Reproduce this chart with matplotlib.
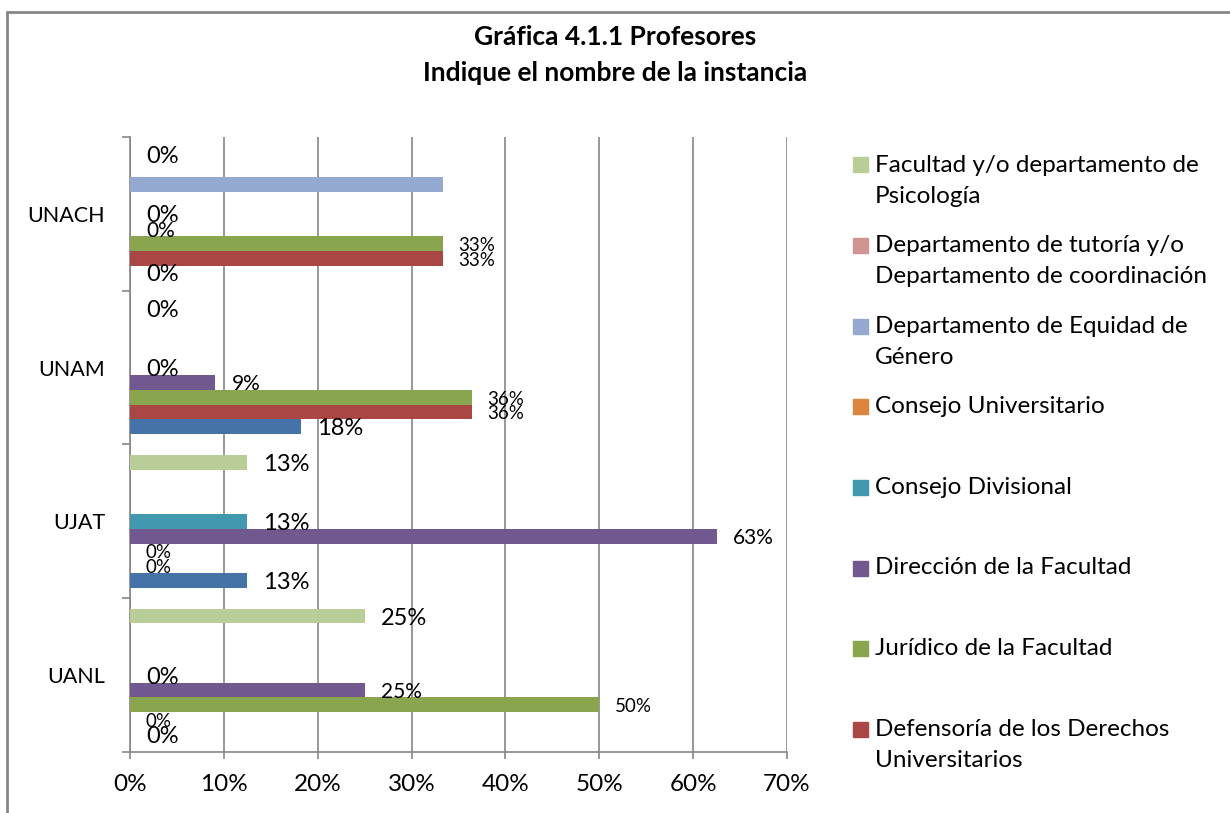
import numpy as np
import matplotlib
matplotlib.use('Agg')
import matplotlib.pyplot as plt
from matplotlib.patches import Rectangle

plt.rcParams['font.family'] = ['Lato', 'DejaVu Sans']

# Datos (porcentaje de profesores)
universidades = ['UANL', 'UJAT', 'UNAM', 'UNACH']
instancias = [
    'Otra instancia',
    'Defensoría de los Derechos\nUniversitarios',
    'Jurídico de la Facultad',
    'Dirección de la Facultad',
    'Consejo Divisional',
    'Consejo Universitario',
    'Departamento de Equidad de\nGénero',
    'Departamento de tutoría y/o\nDepartamento de coordinación',
    'Facultad y/o departamento de\nPsicología',
]
nan = np.nan
otra = [0, 12.5, 18.2, 0]
defensoria = [0, 0, 36.4, 33.3]
juridico = [50, 0, 36.4, 33.3]
direccion = [25, 62.5, 9.1, 0]
divisional = [0, 12.5, 0, 0]
universitario = [nan, nan, nan, nan]
equidad = [nan, nan, nan, 33.3]
tutoria = [nan, nan, nan, nan]
psicologia = [25, 12.5, 0, 0]
valores = [otra, defensoria, juridico, direccion, divisional,
           universitario, equidad, tutoria, psicologia]

colores = ['#4572A7', '#AA4643', '#89A54E', '#71588F', '#4198AF',
           '#DB843D', '#93A9CF', '#D19392', '#B9CD96']
con_etiqueta = [True, True, True, True, True, False, False, False, True]
tam_etiqueta = [17, 13.5, 13.5, 15, 17, 17, 17, 17, 17]

W, H = 1230, 813
fx = lambda px: px / W
fy = lambda py: 1 - py / H

fig = plt.figure(figsize=(W / 100, H / 100), dpi=100)
ax = fig.add_axes([fx(130), fy(752), fx(787) - fx(130), fy(137) - fy(752)])

gris = '#868686'
h = 0.096
y = np.arange(len(universidades))
for j, vals in enumerate(valores):
    pos = y + (j - 4) * h
    ax.barh(pos, vals, height=h, color=colores[j], zorder=3)
    if not con_etiqueta[j]:
        continue
    for p, v in zip(pos, vals):
        if np.isnan(v):
            continue
        ax.annotate(f'{int(np.floor(v + 0.5))}%', (v, p), xytext=(16, -2),
                    textcoords='offset pixels', ha='left', va='center',
                    fontsize=tam_etiqueta[j], zorder=4)

ax.set_xlim(0, 70)
ax.set_ylim(-0.5, 3.5)
ax.set_xticks(np.arange(0, 71, 10))
ax.set_xticklabels([f'{t}%' for t in range(0, 71, 10)])
ax.set_yticks(y)
ax.set_yticklabels(universidades)
ax.set_yticks(np.arange(-0.5, 4, 1), minor=True)
ax.grid(axis='x', color=gris, linewidth=1.2, zorder=0)
for s in ['top', 'right']:
    ax.spines[s].set_visible(False)
for s in ['left', 'bottom']:
    ax.spines[s].set_color(gris)
    ax.spines[s].set_linewidth(1.2)
ax.tick_params(axis='x', length=5, color=gris, width=1.2, labelsize=17.5, pad=11)
ax.tick_params(axis='y', which='major', length=0, labelsize=15.5, pad=18)
ax.tick_params(axis='y', which='minor', length=6, color=gris, width=1.2)

# Títulos
fig.text(0.5, fy(37), 'Gráfica 4.1.1 Profesores', ha='center', va='center',
         fontsize=19, fontweight='bold')
fig.text(0.5, fy(73), 'Indique el nombre de la instancia', ha='center',
         va='center', fontsize=19, fontweight='bold')

# Leyenda (orden inverso, como en Excel)
y0 = 165
for k, j in enumerate(range(len(instancias) - 1, 0, -1)):
    yc = y0 + k * 80.6
    fig.add_artist(Rectangle((fx(853), fy(yc + 7.5)), 15 / W, 15 / H,
                             transform=fig.transFigure, color=colores[j]))
    for l, linea in enumerate(instancias[j].split('\n')):
        fig.text(fx(875), fy(yc + 31 * l), linea, ha='left', va='center',
                 fontsize=17.5)

# Borde del área del gráfico
fig.add_artist(Rectangle((fx(7), -0.1), 2, fy(12) + 0.1, transform=fig.transFigure,
                         fill=False, ec=gris, lw=2))

fig.savefig('out.png', dpi=100)
